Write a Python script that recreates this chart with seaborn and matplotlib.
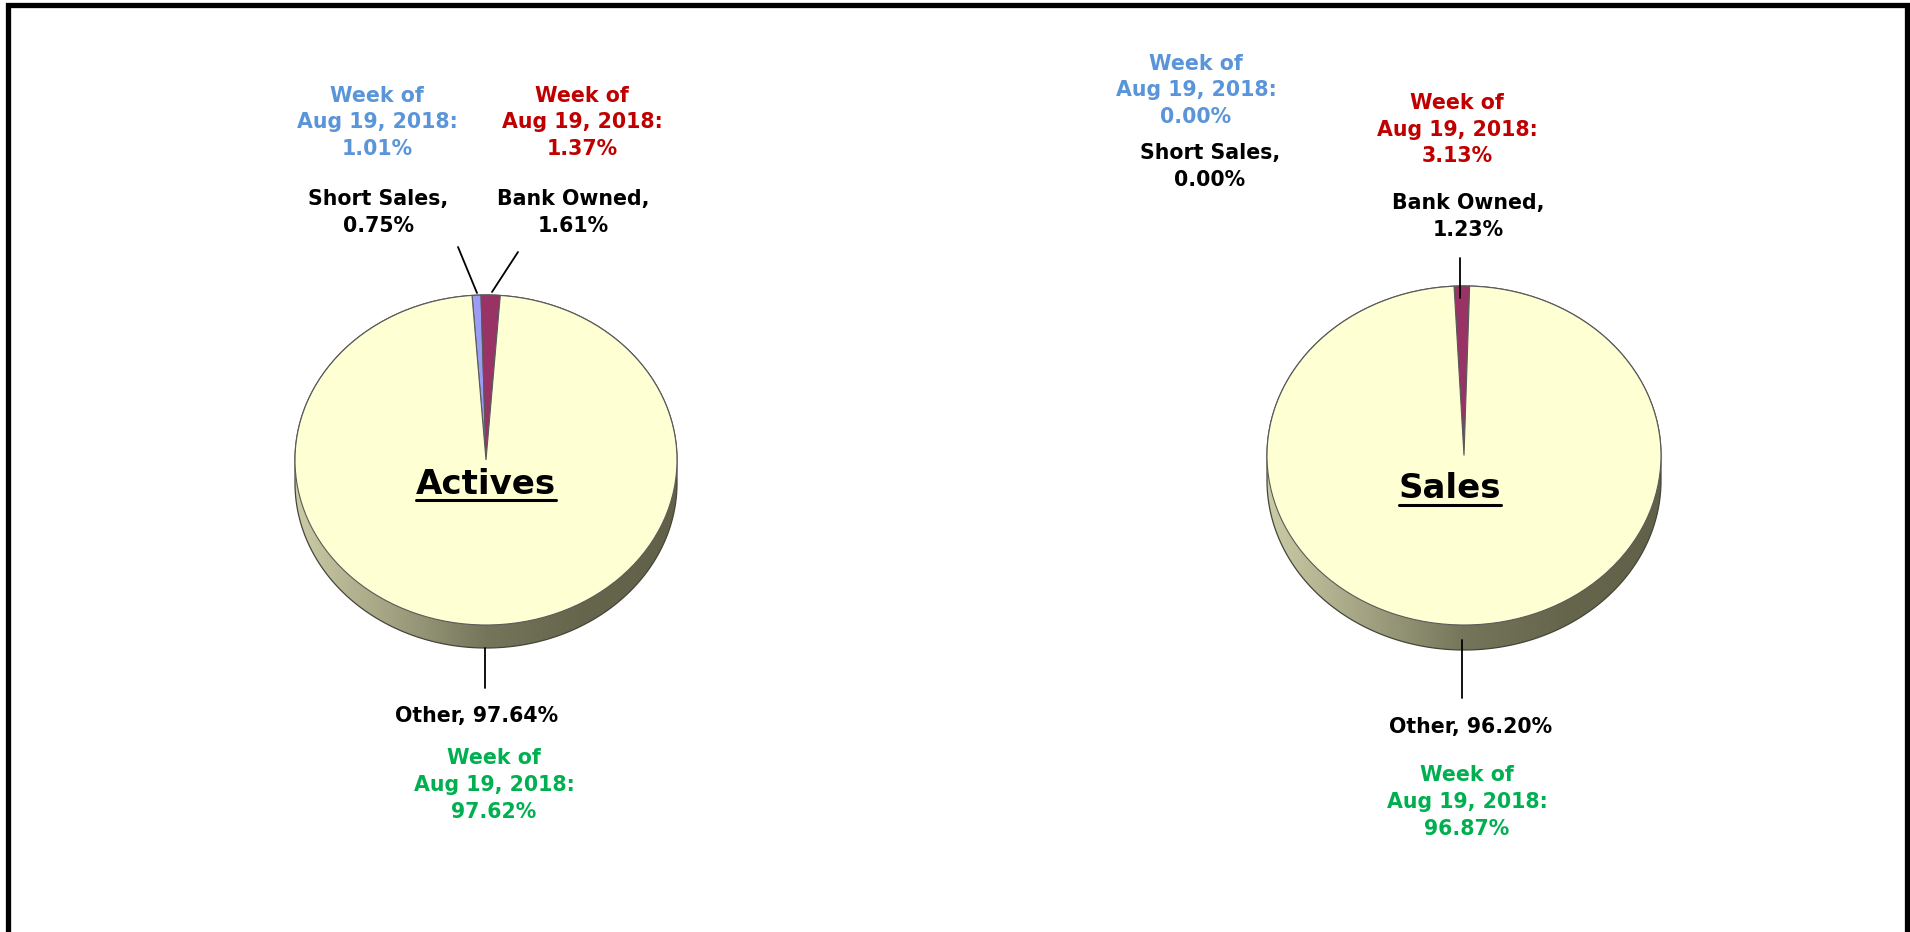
import numpy as np
import matplotlib.pyplot as plt
import seaborn as sns
from matplotlib.patches import Polygon
from matplotlib.lines import Line2D
from matplotlib.colors import LinearSegmentedColormap

# data
labels = ["Short Sales", "Bank Owned", "Other"]
actives = [0.75, 1.61, 97.64]
sales = [0.00, 1.23, 96.20]
actives_week = [1.01, 1.37, 97.62]
sales_week = [0.00, 3.13, 96.87]
week = "Aug 19, 2018"

sns.set_theme(style="white")
plt.rcParams['font.family'] = ['DejaVu Sans']
plt.rcParams['font.weight'] = 'bold'

W, H = 1910, 932
fig = plt.figure(figsize=(W / 100, H / 100), dpi=100)
fig.patch.set_facecolor("white")

colors = ["#9a9cf6", "#993366", "#ffffd4"]
week_colors = ["#5b95d9", "#c00000", "#00b050"]
side_cmap = LinearSegmentedColormap.from_list(
    "side", ["#cbcba6", "#a3a383", "#75755b", "#66664d", "#616149"])


def fx(x):
    return x / W


def fy(y):
    return 1 - y / H


def pie3d(values, cx, cy, rx, ry, depth, start):
    d = depth / ry
    left, top = cx - 1.3 * rx, cy - 1.3 * ry
    bottom = cy + 1.3 * ry + depth
    ax = fig.add_axes([left / W, 1 - bottom / H, 2.6 * rx / W, (bottom - top) / H])
    wedges, _ = ax.pie(values, colors=colors, startangle=start, counterclock=False,
                       wedgeprops=dict(edgecolor="#5a5a5a", linewidth=0.8))
    for w in wedges:
        w.set_zorder(3)
    # extruded side of the disc
    t1 = np.linspace(np.pi, 2 * np.pi, 300)
    t2 = np.linspace(0, np.pi, 300)
    pts = np.vstack([np.column_stack([np.cos(t1), np.sin(t1) - d]),
                     np.column_stack([np.cos(t2), np.sin(t2)])])
    side = Polygon(pts, closed=True, facecolor="none", edgecolor="#45453a",
                   linewidth=0.9, zorder=2)
    ax.add_patch(side)
    grad = np.linspace(0, 1, 256).reshape(1, -1)
    im = ax.imshow(grad, extent=(-1, 1, -1 - d, 1), cmap=side_cmap,
                   aspect="auto", zorder=1)
    im.set_clip_path(side)
    ax.set_aspect("auto")
    ax.set_xlim(-1.3, 1.3)
    ax.set_ylim(-1.3 - d, 1.3)
    ax.axis("off")
    return ax


pie3d(actives, 486, 460, 191, 165, 23, 94.2)
pie3d(sales, 1464, 455.5, 197, 169.5, 25, 92.9)

fs = 14.8
ls = 1.42


def label(x, y, s, color="black"):
    fig.text(fx(x), fy(y), s, ha="center", va="center", fontsize=fs,
             color=color, fontweight="bold", linespacing=ls)


def wk(v):
    return f"Week of\n{week}:\n{v:.2f}%"


# Actives labels
label(377, 122.5, wk(actives_week[0]), week_colors[0])
label(582, 122.5, wk(actives_week[1]), week_colors[1])
label(378, 212.5, f"{labels[0]},\n{actives[0]:.2f}%")
label(573, 212.5, f"{labels[1]},\n{actives[1]:.2f}%")
label(477, 716, f"{labels[2]}, {actives[2]:.2f}%")
label(494, 785, wk(actives_week[2]), week_colors[2])

# Sales labels
label(1196, 90.5, wk(sales_week[0]), week_colors[0])
label(1210, 166.5, f"{labels[0]},\n{sales[0]:.2f}%")
label(1457, 129.5, wk(sales_week[1]), week_colors[1])
label(1468, 216.5, f"{labels[1]},\n{sales[1]:.2f}%")
label(1471, 727, f"{labels[2]}, {sales[2]:.2f}%")
label(1467, 802, wk(sales_week[2]), week_colors[2])

# leader lines
leaders = [((458, 247), (477, 293)), ((518, 252), (492, 292)), ((485, 648), (485, 688)),
           ((1460, 258), (1460, 298)), ((1462, 640), (1462, 698))]
for (x0, y0), (x1, y1) in leaders:
    fig.add_artist(Line2D([fx(x0), fx(x1)], [fy(y0), fy(y1)], color="black", lw=1.3))

# pie titles, underlined
titles = [fig.text(fx(486), fy(485), "Actives", ha="center", va="center",
                   fontsize=24.5, fontweight="bold", color="black"),
          fig.text(fx(1450), fy(488), "Sales", ha="center", va="center",
                   fontsize=24.5, fontweight="bold", color="black")]
fig.canvas.draw()
r = fig.canvas.get_renderer()
for t, uy in zip(titles, [500, 505]):
    bb = t.get_window_extent(r)
    fig.add_artist(Line2D([fx(bb.x0), fx(bb.x1)], [fy(uy), fy(uy)], color="black", lw=2.2))

# outer frame (left, top, right)
fig.add_artist(Line2D([fx(7.5), fx(7.5), fx(1906.5), fx(1906.5)],
                      [fy(940), fy(4.5), fy(4.5), fy(940)], color="black", lw=3.8,
                      solid_joinstyle="miter"))

fig.savefig("out.png", dpi=100, facecolor="white")
